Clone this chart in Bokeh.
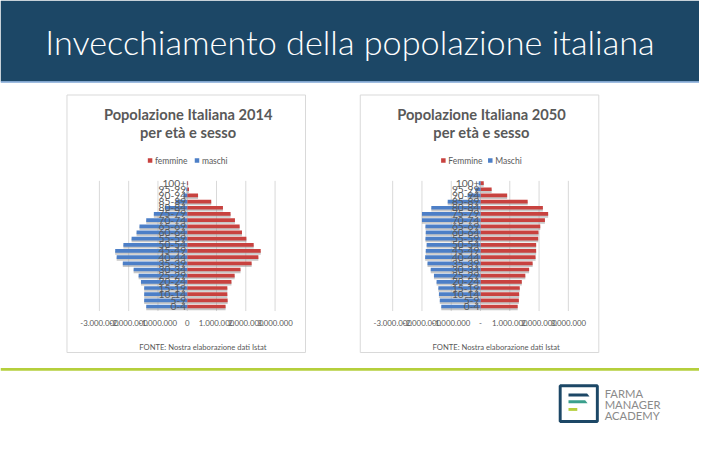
from bokeh.plotting import figure
from bokeh.models import Range1d, Label
from bokeh.embed import file_html
from bokeh.resources import INLINE
from bokeh.core.properties import value

# ---------------- data ----------------
age_groups = ["0-4", "5-9", "10-14", "15-19", "20-24", "25-29", "30-34", "35-39",
              "40-44", "45-49", "50-54", "55-59", "60-64", "65-69", "70-74",
              "75-79", "80-84", "85-89", "90-94", "95-99", "100+"]

femmine_2014 = [1310000, 1380000, 1370000, 1370000, 1510000, 1620000, 1820000,
                2200000, 2430000, 2510000, 2270000, 2020000, 1870000, 1790000,
                1630000, 1480000, 1220000, 820000, 370000, 60000, 30000]
maschi_2014 = [1400000, 1470000, 1470000, 1470000, 1580000, 1660000, 1830000,
               2200000, 2410000, 2460000, 2180000, 1900000, 1730000, 1630000,
               1400000, 1140000, 760000, 390000, 130000, 30000, 10000]

femmine_2050 = [1270000, 1310000, 1320000, 1340000, 1410000, 1530000, 1660000,
                1780000, 1880000, 1900000, 1900000, 1970000, 1980000, 2040000,
                2200000, 2310000, 2130000, 1610000, 910000, 380000, 110000]
maschi_2050 = [1340000, 1390000, 1420000, 1440000, 1500000, 1590000, 1700000,
               1810000, 1890000, 1870000, 1840000, 1880000, 1870000, 1880000,
               2000000, 2000000, 1680000, 1120000, 440000, 180000, 60000]

tick_values = [-3000000, -2000000, -1000000, 0, 1000000, 2000000, 3000000]
tick_labels_2014 = ["-3.000.000", "-2.000.000", "-1.000.000", "0",
                    "1.000.000", "2.000.000", "3.000.000"]
tick_labels_2050 = ["-3.000.000", "-2.000.000", "-1.000.000", "-",
                    "1.000.000", "2.000.000", "3.000.000"]

legend_2014 = ["femmine", "maschi"]
legend_2050 = ["Femmine", "Maschi"]

slide_title = "Invecchiamento della popolazione italiana"
chart_title_2014 = ["Popolazione Italiana 2014", "per età e sesso"]
chart_title_2050 = ["Popolazione Italiana 2050", "per età e sesso"]
source_text = "FONTE: Nostra elaborazione dati Istat"
logo_lines = ["FARMA", "MANAGER", "ACADEMY"]

# ---------------- layout ----------------
SW, SH = 715, 450          # slide units
W, H = 699, 434            # pixels
S = W / SW

RED = "#c8423f"
BLUE = "#4d7fc7"
GRAY_TXT = "#595959"
NAVY = "#1c4766"
GREEN = "#b5cf3c"
TEAL = "#3a9f8c"

def fs(px):
    return "%.2fpx" % (px * S)

p = figure(width=W, height=H, x_range=Range1d(0, SW), y_range=Range1d(SH, 0),
           output_backend="svg", toolbar_location=None, min_border=0,
           x_axis_type=None, y_axis_type=None)
p.outline_line_color = None
p.background_fill_color = "white"
p.border_fill_color = "white"

# header band
p.quad(left=[0], right=[SW], top=[0], bottom=[84], fill_color=NAVY, line_color=None)
p.segment(x0=[0], x1=[SW], y0=[84.6], y1=[84.6], line_color="#7ea6d6", line_width=1.5)
p.add_layout(Label(x=357.5, y=42, text=slide_title, text_color="white",
                   text_font="'Lato Light', Lato", text_font_size=fs(35),
                   text_align="center", text_baseline="middle"))

# green rule
p.quad(left=[0], right=[SW], top=[381], bottom=[384], fill_color=GREEN, line_color=None)

# logo
p.quad(left=[572.5], right=[610.5], top=[399.5], bottom=[436.5], fill_color=None,
       line_color=NAVY, line_width=3 * S)
p.patches(xs=[[581, 600, 602.5, 581], [581, 598, 600.5, 581], [581, 590, 590, 581]],
          ys=[[407.5, 407.5, 410.5, 410.5], [414.5, 414.5, 417.5, 417.5],
              [422.5, 422.5, 425.5, 425.5]],
          fill_color=[NAVY, TEAL, GREEN], line_color=None)
for i, t in enumerate(logo_lines):
    p.add_layout(Label(x=618, y=407 + 11.8 * i, text=t, text_color="#8a8a8a",
                       text_font="Lato", text_font_size=fs(11.5),
                       text_align="left", text_baseline="middle"))


def draw_chart(tag, box, cx, fem, mas, tick_labels, legend_names, title_lines):
    bl, br, bt, bb = box
    k = 29.95           # slide units per 1,000,000
    y0, d = 317.3, 6.4  # slide y of first group, spacing
    xr = "x" + tag
    yr = "y" + tag
    p.extra_x_ranges[xr] = Range1d((0 - cx) / k * 1e6, (SW - cx) / k * 1e6)
    p.extra_y_ranges[yr] = Range1d((y0 - SH) / d, y0 / d)

    # box
    p.quad(left=[bl], right=[br], top=[bt], bottom=[bb], fill_color="white",
           line_color="#d9d9d9", line_width=1)
    cxm = (bl + br) / 2 + 1
    # titles
    for j, t in enumerate(title_lines):
        p.add_layout(Label(x=cxm + 1, y=118 + 19 * j, text=t, text_color=GRAY_TXT,
                           text_font="Lato", text_font_style="bold",
                           text_font_size=fs(15), text_align="center",
                           text_baseline="middle"))
    # legend
    lx = cxm - 38
    p.scatter(x=[lx, lx + 48], y=[166, 166], marker="square", size=4.5,
              fill_color=[RED, BLUE], line_color=None)
    p.text(x=[lx + 5, lx + 53], y=[166, 166], text=legend_names,
           text_font=value("Lato"), text_font_size=fs(8.7), text_color=GRAY_TXT,
           text_align="left", text_baseline="middle")

    # gridlines
    p.segment(x0=tick_values, x1=tick_values, y0=[187] * len(tick_values),
              y1=[322] * len(tick_values), line_color="#d9d9d9", line_width=1,
              x_range_name=xr)

    idx = list(range(len(age_groups)))
    neg = [-m for m in mas]
    zeros = [0] * len(idx)
    sh = [i - 0.3 for i in idx]
    # shadows
    p.hbar(y=sh, left=zeros, right=fem, height=0.6, fill_color="#9a9a9a",
           fill_alpha=0.55, line_color=None, x_range_name=xr, y_range_name=yr)
    p.hbar(y=sh, left=neg, right=zeros, height=0.6, fill_color="#9a9a9a",
           fill_alpha=0.55, line_color=None, x_range_name=xr, y_range_name=yr)
    # bars
    p.hbar(y=idx, left=zeros, right=fem, height=0.6, fill_color=RED,
           line_color=None, x_range_name=xr, y_range_name=yr)
    p.hbar(y=idx, left=neg, right=zeros, height=0.6, fill_color=BLUE,
           line_color=None, x_range_name=xr, y_range_name=yr)
    # category labels
    p.text(x=zeros, y=idx, text=age_groups, x_offset=-1,
           text_font=value("Lato"), text_font_size=fs(10.5), text_color=GRAY_TXT,
           text_align="right", text_baseline="middle",
           x_range_name=xr, y_range_name=yr)
    # tick labels
    p.text(x=tick_values, y=[334] * len(tick_values), text=tick_labels,
           text_font=value("Lato"), text_font_size=fs(8), text_color=GRAY_TXT,
           text_align="center", text_baseline="middle", x_range_name=xr)
    # source
    p.add_layout(Label(x=cxm + 16, y=359, text=source_text, text_color=GRAY_TXT,
                       text_font="Lato", text_font_size=fs(7.8),
                       text_align="center", text_baseline="middle"))


draw_chart("1", (68, 312, 98, 365), 191.0, femmine_2014, maschi_2014,
           tick_labels_2014, legend_2014, chart_title_2014)
draw_chart("2", (368, 612, 98, 365), 491.0, femmine_2050, maschi_2050,
           tick_labels_2050, legend_2050, chart_title_2050)

open("out.html", "w").write(file_html(p, INLINE))
